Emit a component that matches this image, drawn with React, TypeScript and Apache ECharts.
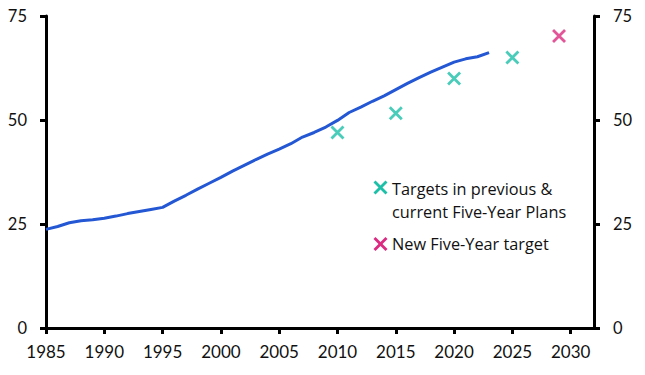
import React, { useEffect, useRef } from "react";
import * as echarts from "echarts";

const years = [1985,1986,1987,1988,1989,1990,1991,1992,1993,1994,1995,1996,1997,1998,1999,2000,2001,2002,2003,2004,2005,2006,2007,2008,2009,2010,2011,2012,2013,2014,2015,2016,2017,2018,2019,2020,2021,2022,2023];
const urbanRate = [23.7,24.4,25.3,25.8,26.0,26.4,26.9,27.5,28.0,28.5,29.0,30.5,31.9,33.4,34.8,36.2,37.7,39.1,40.5,41.8,43.0,44.3,45.9,47.0,48.3,49.9,51.8,53.1,54.5,55.8,57.3,58.8,60.2,61.5,62.7,63.9,64.7,65.2,66.2];
const targetYears = [2010, 2015, 2020, 2025];
const targetValues = [47, 51.6, 60, 65];
const newTargetYears = [2029];
const newTargetValues = [70.2];
const xTicks = [1985,1990,1995,2000,2005,2010,2015,2020,2025,2030];
const legendNames = ["Targets in previous &", "current Five-Year Plans", "New Five-Year target"];

const TEAL = "#1cbfa8";
const MAGENTA = "#dc2a80";
const BLUE = "#2457d3";
const FONT = "Lato";
const LEGEND_FONT = "Open Sans";
const XPATH = "path://M0,0L10,10M10,0L0,10";

export default function App() {
  const ref = useRef<HTMLDivElement>(null);
  useEffect(() => {
    if (!ref.current) return;
    const chart = echarts.init(ref.current, null, { renderer: "svg" });
    const yAxisCommon = {
      type: "value" as const,
      min: 0,
      max: 75,
      interval: 25,
      axisLine: { show: true, lineStyle: { color: "#000", width: 3 } },
      axisTick: { show: true, length: 6, lineStyle: { color: "#000", width: 3 } },
      splitLine: { show: false },
      axisLabel: { color: "#111", fontSize: 16.5, fontFamily: FONT, margin: 19 },
    };
    const xMark = (color: string, flip: number) => ({
      type: "line" as const,
      shape: { x1: -6, y1: -6 * flip, x2: 6, y2: 6 * flip },
      style: { stroke: color, lineWidth: 2.8 },
    });
    const legendText = (i: number, y: number) => ({
      type: "text" as const,
      x: 392,
      y,
      style: { text: legendNames[i], fontSize: 16.3, fontFamily: LEGEND_FONT, fill: "#111", verticalAlign: "middle" },
    });
    chart.setOption({
      animation: false,
      grid: { left: 46, right: 51, top: 16, bottom: 47, containLabel: false },
      xAxis: {
        type: "value",
        min: 1985,
        max: 2032,
        interval: 5,
        axisLine: { show: true, onZero: false, lineStyle: { color: "#000", width: 3 } },
        axisTick: { show: true, length: 6, customValues: xTicks, lineStyle: { color: "#000", width: 3 } },
        axisLabel: {
          customValues: xTicks,
          formatter: (v: number) => String(v),
          color: "#111",
          fontSize: 17,
          fontFamily: FONT,
          margin: 15,
        },
        splitLine: { show: false },
      },
      yAxis: [
        { ...yAxisCommon, position: "left" },
        { ...yAxisCommon, position: "right" },
      ],
      series: [
        {
          type: "line",
          data: years.map((y, i) => [y, urbanRate[i]]),
          showSymbol: false,
          lineStyle: { color: BLUE, width: 3 },
          z: 2,
        },
        {
          type: "scatter",
          data: targetYears.map((y, i) => [y, targetValues[i]]),
          symbol: XPATH,
          symbolSize: 12,
          itemStyle: { color: "transparent", borderColor: TEAL, borderWidth: 2.8 },
          z: 3,
        },
        {
          type: "scatter",
          data: newTargetYears.map((y, i) => [y, newTargetValues[i]]),
          symbol: XPATH,
          symbolSize: 12,
          itemStyle: { color: "transparent", borderColor: MAGENTA, borderWidth: 2.8 },
          z: 3,
        },
      ],
      graphic: [
        { type: "group", x: 380.5, y: 187.5, children: [xMark(TEAL, 1), xMark(TEAL, -1)] },
        { type: "group", x: 380.5, y: 244, children: [xMark(MAGENTA, 1), xMark(MAGENTA, -1)] },
        legendText(0, 188.5),
        legendText(1, 212),
        legendText(2, 244),
      ],
    });
    return () => chart.dispose();
  }, []);
  return <div ref={ref} style={{ width: 645, height: 375, position: "absolute", left: 0, top: 0 }} />;
}
